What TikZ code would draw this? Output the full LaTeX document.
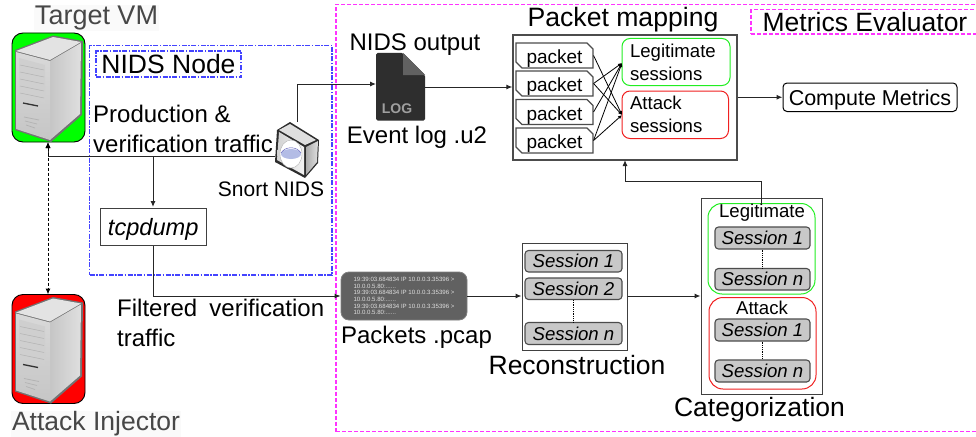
\documentclass[tikz,border=0pt]{standalone}
\usepackage{fontspec}
\setmainfont{Liberation Sans}
\usetikzlibrary{arrows.meta,shapes.misc,calc}
\definecolor{mag}{HTML}{FF33FF}
\definecolor{nidsblue}{HTML}{4444FF}
\definecolor{sess}{HTML}{C8C8C8}
\definecolor{lgreen}{HTML}{22EE22}
\definecolor{lred}{HTML}{F02020}
\newcommand\fs[1]{\fontsize{#1}{#1}\selectfont}
\newcommand\fl[2]{\fontsize{#1}{#2}\selectfont}
\newcommand\bx[7]{%
 \pgfmathsetmacro\cxa{(#3+#5)/2}\pgfmathsetmacro\cya{(#4+#6)/2}%
 \pgfmathsetmacro\wa{#5-#3}\pgfmathsetmacro\ha{#6-#4}%
 \node[inner sep=0pt,minimum width=\wa pt,minimum height=\ha pt,#2] (#1) at (\cxa,\cya) {#7};}
\newcommand\serverfig[3]{%
 \begin{scope}[shift={(#2,#3)}]
  \fill[#1,draw=black,line width=.9pt,rounded corners=11pt] (12,33) rectangle (85,142);
  \fill[black!55] (15,50) -- (53,35.5) -- (83,41) -- (82,115) -- (51,142) -- (15,130) -- cycle;
  \shade[top color=gray!30,bottom color=gray!45] (16,52) -- (50,61) -- (50,140) -- (16,129) -- cycle;
  \shade[left color=gray!45,right color=gray!25] (50,61) -- (81,43) -- (80,114) -- (50,140) -- cycle;
  \fill[gray!22] (16,51) -- (53,37) -- (81,42) -- (50,60) -- cycle;
  \fill[gray!38] (19,58) -- (45,65) -- (45,103) -- (19,96) -- cycle;
  \foreach \k in {0,1,2,3,4} \draw[gray!60,line width=.5pt] (20,{65+\k*7}) -- (44,{70+\k*7});
  \draw[gray!40!black,line width=1.3pt] (23,103) -- (38,106);
  \foreach \k/\e in {0/39,1/37,2/35} \draw[gray!60,line width=.7pt] (24+\k,{117+\k*4}) -- (\e,{120+\k*4});
 \end{scope}}
\tikzset{
 lab/.style={inner sep=0pt,text=black},
 magdash/.style={draw=mag,dash pattern=on 4pt off 2pt,line width=1.1pt},
 bluedash/.style={draw=nidsblue,dash pattern=on 5pt off 1.5pt on 1.5pt off 1.5pt,line width=1.2pt},
 conn/.style={line width=1pt,draw=black!85,-{Latex[length=6pt,width=5pt]}},
 dbl/.style={line width=1pt,dash pattern=on 3pt off 2pt,{Latex[length=6pt,width=5pt]}-{Latex[length=6pt,width=5pt]}},
 sessbox/.style={draw=black!70,line width=1.1pt,fill=sess,rounded corners=3.5pt,font=\fs{18.6}\itshape},
 pkt/.style={chamfered rectangle,chamfered rectangle corners={north east,south west},chamfered rectangle xsep=3pt,chamfered rectangle ysep=3pt,draw=black!70,line width=1.1pt,font=\fs{19},inner sep=0pt,text height=16pt,text depth=0pt},
 frame/.style={draw=black!75,line width=1pt},
 dotl/.style={densely dotted,line width=.8pt},
}
\begin{document}
\begin{tikzpicture}[x=1pt,y=-1pt]
\useasboundingbox (0,0) rectangle (976,436);
\fill[white] (0,0) rectangle (976,436);
% regions
\bx{evalreg}{magdash}{336}{4.5}{985}{431.5}{}
\bx{nidsreg}{bluedash}{89.5}{45.5}{332}{275}{}
\bx{evallab}{magdash,fill=white}{751}{9.5}{985}{34}{}
\node[lab,font=\fs{26.5}] (evaltxt) at (865,22) {Metrics Evaluator};
\bx{nidslab}{bluedash,font=\fs{26.5}}{96}{51}{241}{77}{NIDS Node}
% servers
\serverfig{green}{0}{0}
\serverfig{red}{0}{261.5}
\coordinate (tgt) at (48,142);
\coordinate (atk) at (48,294.5);
\node[lab,fill=gray!4,text=black!72,font=\fs{27},inner sep=1pt] (tgtlab) at (96.5,18) {Target VM};
\node[lab,fill=gray!4,text=black!72,font=\fs{26.5},inner sep=1pt] (atklab) at (96,424) {Attack Injector};
% snort
\coordinate (sn) at (275,156);
\coordinate (sntop) at (297,122);
\fill[gray!35!black] (290,122) -- (319,140) -- (318,163) -- (305,178) -- (275,162) -- (277,130) -- cycle;
\shade[left color=gray!35,right color=white!90!gray] (279,132) -- (304,147) -- (304,175) -- (277,160) -- cycle;
\shade[left color=gray!65,right color=gray!25] (306,147) -- (318,141) -- (317,162) -- (306,175) -- cycle;
\fill[gray!25] (290,124) -- (316,140) -- (305,145) -- (279,130) -- cycle;
\fill[white,draw=gray!60,line width=.4pt] (291,154) ellipse (11pt and 14pt);
\fill[cyan!35!blue!30!white] (291,154) ellipse (10pt and 5pt);
\draw[gray!60!blue,line width=.4pt] (281,153) .. controls (285,146) and (297,146) .. (301,153);
\node[lab,font=\fs{21}] (snlab) at (271,189.5) {Snort NIDS};
% labels left
\node[lab,font=\fl{24}{30},align=left,anchor=north west] (prodlab) at (93,105) {Production \&\\verification traffic};
\bx{tcp}{frame,font=\fs{23.6}\itshape,fill=white,text height=16.5pt,text depth=0pt}{100}{208}{206.5}{245.5}{tcpdump}
\node[lab,font=\fl{24}{30},align=left,anchor=north west] (filtlab) at (117,299) {\hbox to 207pt{Filtered\hfill verification}\\traffic};
% log file
\coordinate (logW) at (376,84);
\coordinate (logE) at (425,87);
\fill[black!82,rounded corners=1.5pt] (376,53) -- (403,53) -- (425,75) -- (425,120.5) -- (376,120.5) -- cycle;
\fill[black!62] (403,53) -- (425,75) -- (403,75) -- cycle;
\node[lab,font=\fs{14}\bfseries,text=gray!75] (loglab) at (397,108.5) {LOG};
\node[lab,font=\fs{24}] (nidsout) at (415,44.5) {NIDS output};
\node[lab,font=\fs{24}] (evlog) at (417,137) {Event log .u2};
% packet mapping
\node[lab,font=\fs{26.6}] (pmlab) at (623,19.5) {Packet mapping};
\bx{pm}{draw=black!70,line width=1.3pt,fill=white}{513}{35}{737}{160}{}
\foreach \n/\a/\b in {1/43/68,2/71/96,3/99.5/124.5,4/128/153}{
 \bx{p\n}{pkt}{516}{\a}{593}{\b}{packet}
}
\bx{leg}{draw=lgreen,line width=1pt,rounded corners=8pt,align=left,text width=92pt,font=\fl{18.6}{23}}{622}{38.5}{730}{85.5}{Legitimate\\sessions}
\bx{att}{draw=lred,line width=1pt,rounded corners=8pt,align=left,text width=90.5pt,font=\fl{18.6}{23}}{622}{91}{728.5}{138.5}{Attack\\sessions}
\bx{cm}{draw=black,line width=1pt,rounded corners=4pt,font=\fs{21.5},text height=15.5pt,text depth=0pt}{783}{83}{957}{111.5}{Compute Metrics}
\coordinate (legin) at (622,63);
\coordinate (attin) at (622,115);
\foreach \s/\t in {p1/attin,p2/legin,p2/attin,p3/legin,p4/legin,p4/attin}{
 \draw[line width=.8pt,-{Latex[length=4pt,width=3.5pt]}] (\s.east) -- (\t);
}
% pcap
\bx{pcap}{draw=black!50,fill=black!62,rounded corners=8pt,line width=.8pt,text=gray!25,align=left,font=\fl{6.1}{6.6}}{341}{272}{467}{320}{19:39:03.684834 IP 10.0.0.3.35396 >\\10.0.0.5.80:......\\19:39:03.684834 IP 10.0.0.3.35396 >\\10.0.0.5.80:......\\19:39:03.684834 IP 10.0.0.3.35396 >\\10.0.0.5.80:......}
\node[lab,font=\fs{24}] (pcaplab) at (416.5,337) {Packets .pcap};
% reconstruction
\bx{rec}{frame,fill=white}{522}{243}{627}{350}{}
\bx{r1}{sessbox}{525}{250.5}{622}{272}{Session 1}
\bx{r2}{sessbox}{525}{278}{622}{299.5}{Session 2}
\bx{rn}{sessbox}{525}{322.5}{622}{344.5}{Session n}
\draw[dotl] (r2) -- (rn);
\node[lab,font=\fs{26.5}] (reclab) at (577,365.5) {Reconstruction};
% categorization
\bx{cat}{frame,fill=white}{701}{198}{822}{394}{}
\bx{cg}{draw=lgreen,line width=1pt,rounded corners=14pt}{708}{203.5}{815}{294}{}
\bx{cr}{draw=lred,line width=1pt,rounded corners=14pt}{709}{297.5}{816}{389}{}
\node[lab,font=\fs{18.6}] (cgl) at (762,213) {Legitimate};
\node[lab,font=\fs{18.6}] (crl) at (762,308) {Attack};
\bx{c1}{sessbox}{715}{227}{810}{249}{Session 1}
\bx{c2}{sessbox}{715}{268.5}{810}{290}{Session n}
\bx{c3}{sessbox}{715}{319}{810}{341}{Session 1}
\bx{c4}{sessbox}{715}{360}{810}{382}{Session n}
\draw[dotl] (c1) -- (c2);
\draw[dotl] (c3) -- (c4);
\node[lab,font=\fs{26.5}] (catlab) at (759.5,410) {Categorization};
% connectors
\coordinate (trunk) at (153,156);
\coordinate (tcptop) at (153,207);
\draw[conn] (sn) -- (48,156) -- (tgt);
\draw[conn] (trunk) -- (tcptop);
\draw[dbl] (tgt) -- (atk);
\draw[conn] (sntop) -- (297,84) -- (logW);
\draw[conn] (logE) -- (pm.west |- logE);
\draw[conn] (tcp.south -| trunk) -- (153,296) -- (pcap.west |- 0,296);
\draw[conn] (pcap.east |- 0,296) -- (rec.west |- 0,296);
\draw[conn] (rec.east |- 0,296) -- (cat.west |- 0,296);
\draw[conn] (cm.west -| pm.east) -- (cm.west);
\draw[conn] (761,203.5) -- (761,181) -- (625,181) -- (625,160);
\end{tikzpicture}
\end{document}
